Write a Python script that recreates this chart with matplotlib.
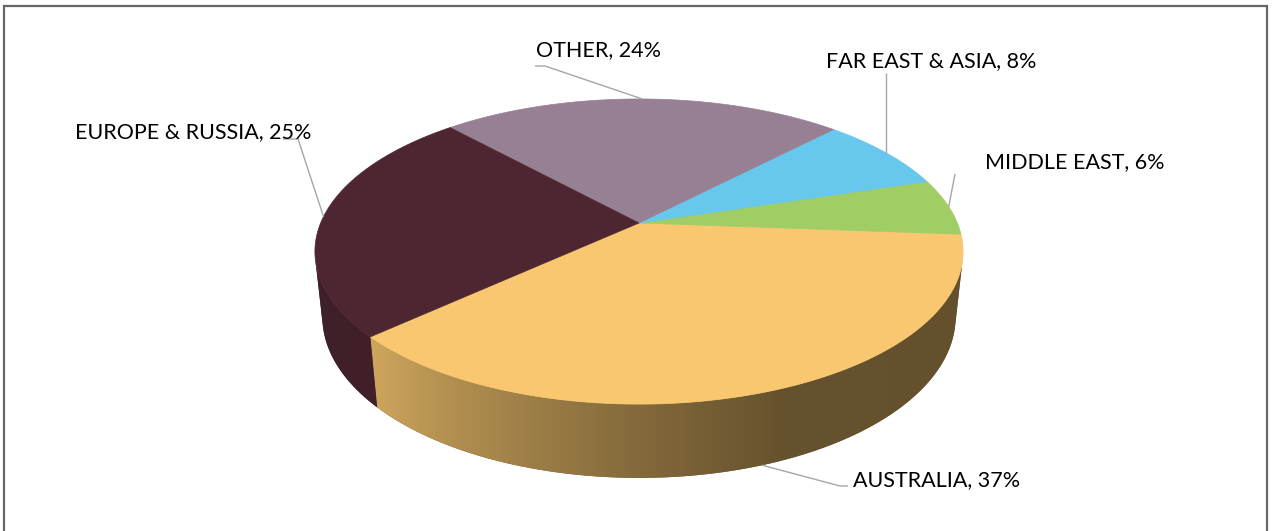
import numpy as np
import matplotlib
matplotlib.use("Agg")
import matplotlib.pyplot as plt
from matplotlib.patches import Polygon
from matplotlib.colors import to_rgb

# ---------------- data ----------------
categories = ["AUSTRALIA", "MIDDLE EAST", "FAR EAST & ASIA", "OTHER", "EUROPE & RUSSIA"]
values = [37, 6, 8, 24, 25]
colors = ["#F8C76F", "#A0CD64", "#68C7EC", "#988094", "#4D2632"]

# ---------------- layout / projection ----------------
W, H = 1273, 531
CX, CY = 639.0, 223.0          # projected pie centre (pixels)
SIN_PHI = 0.4625
PHI = np.arcsin(SIN_PHI)
COS_PHI = np.cos(PHI)
DIST = 4.74                    # camera distance (in pie radii)
SCALE = 1509.0
DEPTH = 0.233                  # pie thickness (in pie radii)
START = -137.5                 # start angle (deg), counter-clockwise

def project(t_deg, z):
    t = np.radians(t_deg)
    u, v = np.cos(t), np.sin(t)
    d = v * COS_PHI + DIST - z * SIN_PHI
    sy = v * SIN_PHI + z * COS_PHI
    return CX + SCALE * u / d, CY - SCALE * sy / d

def shade(t_deg):
    return np.interp(t_deg, [180, 222, 270, 292, 360], [0.80, 0.84, 0.53, 0.41, 0.40])

# visible range of the outer wall (between the two silhouette lines)
ALPHA = np.degrees(np.arcsin(1.0 / (DIST * COS_PHI)))
VIS_LO, VIS_HI = 180.0 + ALPHA, 360.0 - ALPHA

fig = plt.figure(figsize=(W / 100, H / 100), dpi=100)
ax = fig.add_axes([0, 0, 1, 1])
ax.set_xlim(0, W)
ax.set_ylim(H, 0)
ax.axis("off")

total = float(sum(values))
angles = np.cumsum([0] + [v / total * 360.0 for v in values]) + START
slices = [(angles[i], angles[i + 1]) for i in range(len(values))]

# mapping screen x -> angle along the front edge of the top face
_tf = np.linspace(VIS_LO, VIS_HI, 721)
_xf = project(_tf, 0)[0]

# ---------------- side faces (gradient, clipped) ----------------
for (a0, a1), col in zip(slices, colors):
    base = np.array(to_rgb(col))
    for k in (-360, 0, 360):
        lo, hi = max(a0 + k, VIS_LO), min(a1 + k, VIS_HI)
        if hi <= lo:
            continue
        ts = np.linspace(lo, hi, max(3, int((hi - lo) * 2) + 1))
        xt, yt = project(ts, 0)
        xb, yb = project(ts[::-1], -DEPTH)
        pts = list(zip(xt, yt)) + list(zip(xb, yb))
        xs_all = np.r_[xt, xb]
        ys_all = np.r_[yt, yb]
        x0, x1 = xs_all.min() - 2, xs_all.max() + 2
        y0, y1 = ys_all.min() - 2, ys_all.max() + 2
        cm = np.clip(base * shade(0.5 * (lo + hi)), 0, 1)
        ax.add_patch(Polygon(pts, closed=True, facecolor=cm, edgecolor="none",
                             zorder=1))
        gx = np.linspace(x0, x1, 400)
        gt = np.clip(np.interp(gx, _xf, _tf), lo, hi)
        img = np.clip(base[None, :] * shade(gt)[:, None], 0, 1)[None, :, :]
        clip = Polygon(pts, closed=True, facecolor="none", edgecolor="none")
        ax.add_patch(clip)
        im = ax.imshow(img, extent=[x0, x1, y1, y0], aspect="auto",
                       interpolation="bilinear", zorder=1.5)
        im.set_clip_path(clip)

# ---------------- top faces ----------------
for (a0, a1), col in zip(slices, colors):
    ts = np.linspace(a0, a1, max(3, int(a1 - a0) * 2))
    xs, ys = project(ts, 0)
    pts = [(CX, CY)] + list(zip(xs, ys))
    ax.add_patch(Polygon(pts, closed=True, facecolor=col, edgecolor=col,
                         linewidth=0.5, zorder=2))

# ---------------- labels ----------------
label_font = dict(family=["Lato", "DejaVu Sans"], fontsize=15.5, color="black")
label_layout = {
    "OTHER": (536, 56, [(535, 66), (545, 66)], False),
    "FAR EAST & ASIA": (826, 67, None, False),
    "MIDDLE EAST": (985, 168, [(955, 174)], False),
    "EUROPE & RUSSIA": (75, 138, [(283, 139), (298, 139)], False),
    "AUSTRALIA": (853, 486, [(848, 486), (840, 486)], True),
}
for (a0, a1), cat, val in zip(slices, categories, values):
    tx, ty, elbow, on_side = label_layout[cat]
    mid = 0.5 * (a0 + a1)
    ax_, ay_ = project(mid, -DEPTH if on_side else 0)
    if elbow is None:
        elbow = [(ax_, ty + 6)]
    pts = elbow + [(ax_, ay_)]
    ax.plot([p[0] for p in pts], [p[1] for p in pts], color="#A6A6A6",
            lw=1.0, solid_capstyle="butt", zorder=3)
    ax.text(tx, ty, f"{cat}, {val}%", ha="left", va="baseline", zorder=4,
            **label_font)

# ---------------- frame ----------------
ax.plot([4, 4, 1267, 1267], [H + 5, 6, 6, H + 5], color="#666666", lw=1.6,
        solid_joinstyle="miter", zorder=5)

fig.savefig("out.png", dpi=100)
